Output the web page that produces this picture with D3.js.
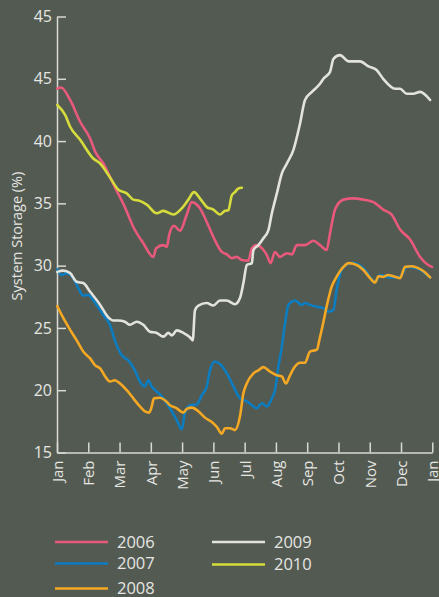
<!DOCTYPE html>
<html>
<head>
<meta charset="utf-8">
<script src="https://cdn.jsdelivr.net/npm/d3@7"></script>
<style>
body { margin: 0; background: #535a52; }
text { font-family: "Open Sans", sans-serif; fill: #e6e6e2; }
</style>
</head>
<body>
<svg id="chart" width="439" height="597"></svg>
<script>
// month labels along bottom (12 equal intervals)
var monthLabels = ["Jan","Feb","Mar","Apr","May","Jun","Jul","Aug","Sep","Oct","Nov","Dec","Jan"];
// y ticks, the top tick is labelled 45 again in the original
var yTickValues = [15,20,25,30,35,40,45,50];
var yTickLabels = ["15","20","25","30","35","40","45","45"];

var years = ["2006","2007","2008","2009","2010"];
var colors = ["#e9597b","#0b7dc0","#f5a823","#e3e3de","#d6dc3b"];

// [month position, storage %]
var s2006 = [[0.01,44.2],[0.13,44.3],[0.42,43.3],[0.74,41.55],[1.06,40.2],[1.22,39.15],[1.48,38.2],[1.85,36.3],
  [2.17,34.7],[2.44,33.1],[2.76,31.8],[3.08,30.7],[3.17,31.4],[3.4,31.65],[3.51,31.5],[3.59,32.5],[3.74,33.2],
  [3.93,32.8],[4.15,34.1],[4.31,35.1],[4.57,34.6],[4.79,33.5],[5.0,32.3],[5.27,31.1],[5.43,30.9],[5.59,30.6],
  [5.75,30.7],[5.91,30.45],[6.12,30.4],[6.23,31.4],[6.39,31.65],[6.55,31.4],[6.71,30.85],[6.83,30.2],[6.97,31.1],
  [7.13,30.7],[7.35,31.0],[7.51,30.9],[7.67,31.65],[7.93,31.65],[8.2,32.0],[8.41,31.65],[8.62,31.25],[8.73,32.6],
  [8.89,34.5],[9.16,35.3],[9.48,35.4],[9.8,35.3],[10.12,35.1],[10.43,34.5],[10.7,34.1],[10.97,32.9],[11.29,32.1],
  [11.61,30.7],[11.87,30.05],[11.99,29.9]];

var s2007 = [[0.01,29.7],[0.15,29.25],[0.31,29.4],[0.52,29.0],[0.68,28.2],[0.84,27.6],[1.0,27.65],[1.22,27.0],
  [1.48,26.05],[1.69,25.25],[1.85,24.0],[2.07,22.8],[2.28,22.4],[2.49,21.6],[2.65,20.7],[2.81,20.3],[2.92,20.8],
  [3.03,20.3],[3.19,19.9],[3.35,19.5],[3.61,18.55],[3.83,17.6],[3.99,16.85],[4.09,18.2],[4.25,18.8],[4.47,18.85],
  [4.63,19.6],[4.79,20.3],[4.89,21.6],[5.05,22.3],[5.21,22.1],[5.43,21.35],[5.64,20.3],[5.85,19.35],[6.07,19.1],
  [6.23,18.8],[6.39,18.55],[6.55,18.95],[6.71,18.7],[6.87,19.35],[6.97,20.0],[7.08,21.9],[7.19,23.5],[7.29,25.35],
  [7.4,26.85],[7.61,27.2],[7.83,26.85],[7.93,27.0],[8.09,26.85],[8.31,26.7],[8.52,26.6],[8.68,26.3],[8.84,26.45],
  [8.94,28.05],[9.1,29.65],[9.26,30.1],[9.48,30.2],[9.8,29.8],[10.17,28.7],[10.33,29.25],[10.65,29.05],
  [10.97,29.1],[11.18,29.9],[11.5,29.8],[11.93,29.05]];

var s2008 = [[0.01,26.75],[0.2,25.8],[0.42,24.85],[0.63,24.0],[0.84,23.1],[1.06,22.55],[1.22,22.0],[1.38,21.75],
  [1.54,21.1],[1.69,20.7],[1.85,20.8],[2.01,20.55],[2.23,20.0],[2.44,19.35],[2.65,18.7],[2.81,18.3],[2.95,18.2],
  [3.03,18.7],[3.1,19.35],[3.29,19.4],[3.45,19.2],[3.61,18.8],[3.83,18.55],[4.04,18.2],[4.15,18.5],[4.31,18.6],
  [4.57,18.2],[4.73,17.8],[4.95,17.45],[5.11,17.05],[5.27,16.5],[5.37,16.95],[5.53,16.95],[5.69,16.8],[5.85,17.9],
  [5.96,19.75],[6.07,20.55],[6.28,21.35],[6.44,21.6],[6.6,21.85],[6.81,21.5],[7.03,21.2],[7.19,21.1],[7.32,20.55],
  [7.45,21.2],[7.61,21.9],[7.77,22.2],[7.93,22.2],[8.09,23.1],[8.31,23.25],[8.39,24.05],[8.52,25.5],[8.62,26.7],
  [8.78,28.3],[8.94,29.1],[9.16,29.9],[9.32,30.2],[9.48,30.15],[9.8,29.65],[10.01,29.0],[10.17,28.65],
  [10.28,29.15],[10.43,29.1],[10.59,29.25],[10.75,29.15],[10.97,29.0],[11.13,29.9],[11.34,29.95],[11.55,29.8],
  [11.77,29.45],[11.93,29.05]];

var s2009 = [[0.01,29.5],[0.2,29.6],[0.42,29.4],[0.63,28.7],[0.84,28.6],[1.06,27.9],[1.38,26.85],[1.64,25.85],
  [1.8,25.6],[1.96,25.6],[2.17,25.5],[2.33,25.25],[2.55,25.5],[2.76,25.25],[2.97,24.7],[3.19,24.6],[3.4,24.3],
  [3.56,24.6],[3.67,24.4],[3.83,24.8],[4.04,24.6],[4.25,24.25],[4.34,24.0],[4.41,26.4],[4.52,26.8],[4.79,27.0],
  [5.0,26.8],[5.21,27.2],[5.43,27.2],[5.69,26.9],[5.85,27.4],[5.96,28.6],[6.07,30.05],[6.23,30.2],[6.28,31.25],
  [6.44,31.65],[6.6,32.2],[6.76,32.85],[6.87,34.2],[7.03,35.8],[7.19,37.4],[7.35,38.2],[7.56,39.3],[7.77,41.4],
  [7.93,43.3],[8.15,43.95],[8.41,44.6],[8.52,45.0],[8.73,45.55],[8.84,46.6],[9.05,46.9],[9.32,46.4],[9.69,46.4],
  [9.96,46.0],[10.22,45.7],[10.43,45.0],[10.81,44.2],[10.97,44.2],[11.18,43.8],[11.39,43.8],[11.61,43.95],
  [11.93,43.3]];

var s2010 = [[0.01,42.9],[0.26,42.1],[0.42,41.15],[0.74,40.1],[1.16,38.6],[1.38,38.2],[1.69,37.1],[1.96,36.1],
  [2.23,35.8],[2.44,35.3],[2.65,35.2],[2.87,34.9],[3.19,34.2],[3.4,34.4],[3.72,34.1],[3.99,34.6],[4.2,35.3],
  [4.38,35.9],[4.57,35.4],[4.79,34.7],[5.0,34.5],[5.21,34.1],[5.37,34.4],[5.48,34.45],[5.59,35.65],[5.69,35.9],
  [5.8,36.2],[5.91,36.25]];

var seriesData = [s2006, s2007, s2008, s2009, s2010];

var svg = d3.select("#chart");
svg.append("rect").attr("width",439).attr("height",597).attr("fill","#535a52");

var x = d3.scaleLinear().domain([0,12]).range([57,432.3]);
var y = d3.scaleLinear().domain([15,50]).range([452.5,16.5]);

var axisColor = "#d9d9d5";

// y axis, ticks point into the plot
var yAxis = svg.append("g").attr("transform","translate(57,0)")
  .call(d3.axisLeft(y).tickValues(yTickValues)
    .tickFormat(function(d,i){ return yTickLabels[i]; })
    .tickSizeInner(-9).tickSizeOuter(0).tickPadding(5));
yAxis.selectAll("path, line").attr("stroke",axisColor).attr("stroke-width",1.5);
yAxis.selectAll("text").style("font-size","16px").attr("fill","#e6e6e2");

// x axis, months
var xAxis = svg.append("g").attr("transform","translate(0,452.5)")
  .call(d3.axisBottom(x).tickValues(d3.range(13))
    .tickFormat(function(d){ return monthLabels[d]; })
    .tickSizeInner(-10).tickSizeOuter(0));
xAxis.selectAll("path, line").attr("stroke",axisColor).attr("stroke-width",1.5);
xAxis.selectAll("text")
  .attr("y",0).attr("x",-8).attr("dy","0.36em")
  .attr("transform","rotate(-90)")
  .style("text-anchor","end").style("font-size","15px").attr("fill","#e6e6e2");

svg.selectAll(".domain").attr("fill","none");

// axis title
svg.append("text")
  .attr("transform","translate(22,236) rotate(-90)")
  .attr("text-anchor","middle")
  .style("font-size","14.5px")
  .text("System Storage (%)");

var line = d3.line()
  .x(function(d){ return x(d[0]); })
  .y(function(d){ return y(d[1]); })
  .curve(d3.curveMonotoneX);

svg.selectAll(".series")
  .data(seriesData)
  .enter()
  .append("path")
  .attr("class","series")
  .attr("d", line)
  .attr("fill","none")
  .attr("stroke", function(d,i){ return colors[i]; })
  .attr("stroke-width",2.6)
  .attr("stroke-linejoin","round")
  .attr("stroke-linecap","round");

// legend: first three years in a left column, the rest on the right
var legendPos = [[55,542],[55,563.5],[55,588.5],[212,542],[212,564.5]];
var legend = svg.selectAll(".legend")
  .data(years)
  .enter()
  .append("g")
  .attr("class","legend")
  .attr("transform", function(d,i){ return "translate(" + legendPos[i][0] + "," + legendPos[i][1] + ")"; });

legend.append("line")
  .attr("x1",0).attr("x2",53).attr("y1",0).attr("y2",0)
  .attr("stroke", function(d,i){ return colors[i]; })
  .attr("stroke-width",2.6);

legend.append("text")
  .attr("x",62).attr("y",0).attr("dy","0.36em")
  .style("font-size","16.5px")
  .text(function(d){ return d; });
</script>
</body>
</html>
